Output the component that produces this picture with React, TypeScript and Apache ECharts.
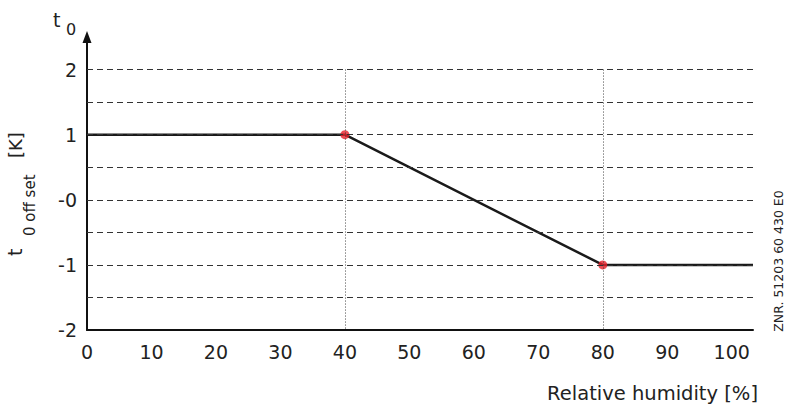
import React, { useEffect, useRef } from 'react';
import * as echarts from 'echarts';

const xTickValues = [0, 10, 20, 30, 40, 50, 60, 70, 80, 90, 100];
const yTickValues = [-2, -1, 0, 1, 2];
const yTickLabels = ['-2', '-1', '-0', '1', '2'];
const curveX = [0, 40, 80, 103.3];
const curveY = [1, 1, -1, -1];
const markerX = [40, 80];
const markerY = [1, -1];
const gridLevels = [2, 1.5, 1, 0.5, 0, -0.5, -1, -1.5];
const guideX = [40, 80];
const guideTop = 2;
const guideBottom = -2;
const xName = 'Relative humidity [%]';
const docCode = 'ZNR. 51203 60 430 E0';

const FONT = 'DejaVu Sans';
const TXT = '#222';

export default function App() {
  const ref = useRef<HTMLDivElement>(null);
  useEffect(() => {
    if (!ref.current) return;
    const chart = echarts.init(ref.current, undefined, { renderer: 'svg' });
    const option: any = {
      animation: false,
      backgroundColor: '#fff',
      textStyle: { fontFamily: FONT },
      grid: { left: 87, right: 33, top: 37, bottom: 77, containLabel: false },
      xAxis: {
        type: 'value',
        min: 0,
        max: 103.3,
        interval: 10,
        axisLine: { show: true, onZero: false, lineStyle: { color: '#111', width: 2 } },
        axisTick: { show: false },
        splitLine: { show: false },
        axisLabel: {
          margin: 12,
          fontSize: 19,
          color: TXT,
          fontFamily: FONT,
          formatter: (v: number) => (xTickValues.includes(v) ? String(v) : ''),
        },
      },
      yAxis: {
        type: 'value',
        min: -2,
        max: 2.5,
        interval: 1,
        axisLine: {
          show: true,
          onZero: false,
          symbol: ['none', 'triangle'],
          symbolSize: [9, 12],
          lineStyle: { color: '#111', width: 2 },
        },
        axisTick: { show: false },
        splitLine: { show: false },
        axisLabel: {
          margin: 10,
          fontSize: 19,
          color: TXT,
          fontFamily: FONT,
          formatter: (v: number) => {
            const i = yTickValues.indexOf(v);
            return i >= 0 ? yTickLabels[i] : '';
          },
        },
      },
      series: [
        {
          type: 'line',
          data: [],
          z: 1,
          silent: true,
          markLine: {
            silent: true,
            symbol: ['none', 'none'],
            label: { show: false },
            lineStyle: { color: '#333', width: 1, type: [6, 4] },
            data: gridLevels.map((v) => ({ yAxis: v })),
          },
        },
        {
          type: 'line',
          data: [],
          z: 1,
          silent: true,
          markLine: {
            silent: true,
            symbol: ['none', 'none'],
            label: { show: false },
            lineStyle: { color: '#444', width: 1, type: [1, 2] },
            data: guideX.map((x) => [{ coord: [x, guideTop] }, { coord: [x, guideBottom] }]),
          },
        },
        {
          type: 'line',
          z: 3,
          data: curveX.map((x, i) => [x, curveY[i]]),
          showSymbol: false,
          lineStyle: { color: '#1a1a1a', width: 2.5 },
        },
        {
          type: 'scatter',
          z: 4,
          data: markerX.map((x, i) => [x, markerY[i]]),
          symbolSize: 9,
          itemStyle: { color: '#e8202a' },
        },
      ],
      graphic: [
        {
          type: 'text',
          x: 758,
          y: 393,
          style: { text: xName, align: 'right', verticalAlign: 'middle', fontSize: 19.5, fill: TXT, fontFamily: FONT },
        },
        {
          type: 'text',
          x: 53,
          y: 20,
          style: { text: 't', align: 'left', verticalAlign: 'middle', fontSize: 19, fill: TXT, fontFamily: FONT },
        },
        {
          type: 'text',
          x: 66,
          y: 29,
          style: { text: '0', align: 'left', verticalAlign: 'middle', fontSize: 16, fill: TXT, fontFamily: FONT },
        },
        {
          type: 'group',
          x: 15,
          y: 256,
          rotation: Math.PI / 2,
          children: [
            {
              type: 'text',
              x: 0,
              y: 0,
              style: { text: 't', align: 'left', verticalAlign: 'middle', fontSize: 19, fill: TXT, fontFamily: FONT },
            },
            {
              type: 'text',
              x: 20,
              y: 15,
              style: { text: '0 off set', align: 'left', verticalAlign: 'middle', fontSize: 15, fill: TXT, fontFamily: FONT },
            },
            {
              type: 'text',
              x: 98,
              y: 0,
              style: { text: '[K]', align: 'left', verticalAlign: 'middle', fontSize: 18, fill: TXT, fontFamily: FONT },
            },
          ],
        },
        {
          type: 'text',
          x: 778,
          y: 261,
          rotation: Math.PI / 2,
          style: { text: docCode, align: 'center', verticalAlign: 'middle', fontSize: 12.5, fill: TXT, fontFamily: FONT },
        },
      ],
    };
    chart.setOption(option);
    return () => chart.dispose();
  }, []);
  return <div ref={ref} style={{ position: 'absolute', left: 0, top: 0, width: 786, height: 407 }} />;
}
